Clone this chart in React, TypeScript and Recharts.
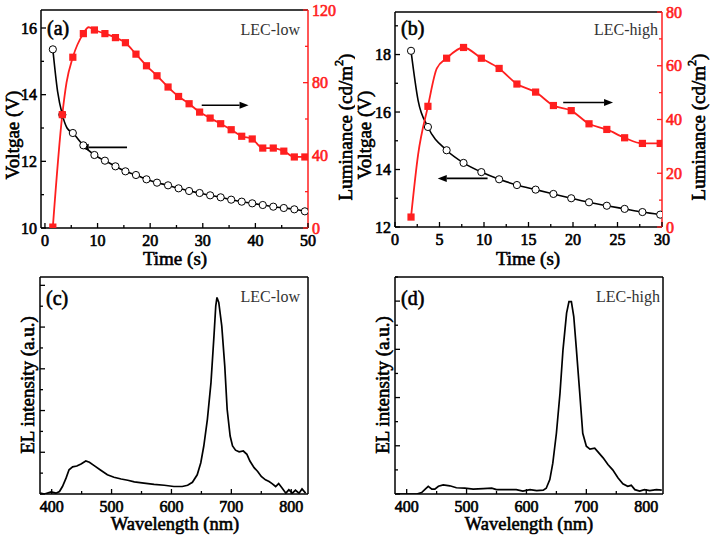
import React from 'react'
import { LineChart, Line, XAxis, YAxis, Label, ReferenceLine } from 'recharts'

const FONT = "'Liberation Serif', 'Times New Roman', serif"
const RED = '#ff1f1f'

// (a) LEC-low, voltage / luminance vs time
const timeLow = [1.5, 3.3, 5.3, 7.3, 9.4, 11.4, 13.4, 15.3, 17.3, 19.3, 21.3, 23.4, 25.4, 27.4, 29.4, 31.4, 33.4, 35.4, 37.4, 39.4, 41.4, 43.4, 45.4, 47.4, 49.4]
const voltLow = [15.36, 13.4, 12.85, 12.48, 12.19, 12.02, 11.85, 11.7, 11.59, 11.46, 11.36, 11.28, 11.19, 11.11, 11.05, 10.98, 10.92, 10.85, 10.79, 10.74, 10.69, 10.64, 10.6, 10.56, 10.5]
const lumLow = [0.5, 62.4, 94, 107, 109, 107, 104.8, 102, 95.7, 89.3, 83.8, 77.6, 72.4, 68.4, 63.8, 60.5, 57.4, 54.1, 50.5, 49, 44, 44, 42.3, 39.1, 39.1]
// curve points between the markers
const voltLowBetweenT = [2.4, 4.2]
const voltLowBetween = [14.1, 13.0]
const lumLowBetweenT = [4.1, 8.3]
const lumLowBetween = [80, 110.5]

// (b) LEC-high
const timeHigh = [1.8, 3.7, 5.8, 7.7, 9.7, 11.7, 13.7, 15.8, 17.8, 19.8, 21.8, 23.8, 25.8, 27.8, 29.8]
const voltHigh = [18.13, 15.48, 14.67, 14.23, 13.91, 13.66, 13.46, 13.3, 13.15, 13.0, 12.86, 12.74, 12.63, 12.52, 12.43]
const lumHigh = [3.7, 44.9, 62.8, 66.8, 62.8, 59.0, 53.2, 50.2, 45.2, 43.3, 38.4, 36.3, 33.2, 31.1, 31.1]
const voltHighBetweenT = [2.6]
const voltHighBetween = [16.4]
const lumHighBetweenT = [2.6, 4.7]
const lumHighBetween = [27, 59]

// (c) EL spectrum, LEC-low
const wlLow = [381, 388, 399, 407, 413, 418, 424, 429, 435, 442, 449, 457, 463, 471, 482, 493, 504, 516, 527, 538, 554, 571, 588, 604, 618, 627, 635, 643, 649, 654, 660, 666, 671, 674, 676, 679, 684, 689, 693, 698, 702, 707, 713, 720, 726, 731, 738, 744, 750, 757, 763, 768, 774, 779, 785, 791, 796, 802, 807, 813, 818, 824]
const elLow = [0.02, 0.0, 0.05, 0.02, 0.06, 0.18, 0.38, 0.58, 0.65, 0.67, 0.72, 0.79, 0.76, 0.68, 0.57, 0.46, 0.4, 0.36, 0.33, 0.29, 0.26, 0.23, 0.21, 0.18, 0.18, 0.21, 0.28, 0.46, 0.75, 1.15, 1.79, 2.67, 3.79, 4.51, 4.71, 4.59, 4.03, 3.07, 2.03, 1.39, 1.15, 1.05, 1.01, 1.03, 0.95, 0.79, 0.63, 0.54, 0.42, 0.34, 0.3, 0.25, 0.18, 0.25, 0.14, 0.02, 0.1, 0.02, 0.09, 0.02, 0.12, 0.02]

// (d) EL spectrum, LEC-high
const wlHigh = [383, 400, 417, 425, 431, 436, 442, 447, 453, 461, 472, 483, 497, 511, 528, 542, 550, 567, 583, 594, 606, 617, 628, 633, 639, 644, 650, 656, 661, 667, 671, 675, 679, 683, 689, 694, 700, 706, 714, 719, 728, 736, 744, 753, 761, 769, 775, 781, 789, 797, 806, 817, 826]
const elHigh = [0, 0, 0, 0.03, 0.1, 0.16, 0.1, 0.1, 0.16, 0.19, 0.17, 0.13, 0.12, 0.1, 0.11, 0.12, 0.09, 0.09, 0.09, 0.06, 0.09, 0.07, 0.08, 0.12, 0.3, 0.64, 1.26, 2.09, 2.99, 3.75, 3.99, 3.99, 3.68, 3.06, 2.09, 1.26, 0.99, 0.93, 0.95, 0.88, 0.75, 0.61, 0.5, 0.33, 0.21, 0.16, 0.18, 0.09, 0.06, 0.09, 0.07, 0.09, 0.08]

// arrows pointing at the axis each curve belongs to
const arrowsLow = [
  { axis: 'v', from: 15.6, to: 6.6, at: 12.42 },
  { axis: 'l', from: 29.8, to: 38.7, at: 67.6 },
]
const arrowsHigh = [
  { axis: 'v', from: 10.4, to: 4.8, at: 13.69 },
  { axis: 'l', from: 18.9, to: 24.5, at: 46.3 },
]

const pts = (xs: number[], ys: number[], k: string) => xs.map((x, i) => ({ t: x, [k]: ys[i] }))
const merged = (xs: number[], ys: number[], bx: number[], by: number[], k: string) =>
  [...pts(xs, ys, k), ...pts(bx, by, k)].sort((a, b) => a.t - b.t)

const frame = { stroke: '#000', strokeWidth: 1.5 }
const redFrame = { stroke: RED, strokeWidth: 1.5 }
// the serif family has no bold face here, so thicken with a thin outline
const boldish = (size: number, color: string, w = 0.55) => ({
  fontFamily: FONT,
  fontSize: size,
  fontWeight: 'normal' as const,
  stroke: color,
  strokeWidth: w,
})

function makeTick(side: 'bottom' | 'left' | 'right', majors: number[], color: string, labels = true) {
  return (props: any) => {
    const { x, y, payload } = props
    const v = payload.value as number
    const major = majors.includes(v)
    const len = major ? 5 : 3
    const st = boldish(16, color, 0.65)
    if (side === 'bottom') {
      return (
        <g>
          <line x1={x} x2={x} y1={y} y2={y - len} stroke={color} strokeWidth={1.3} />
          {labels && major && (
            <text x={x} y={y + 12} textAnchor="middle" dominantBaseline="central" fill={color} style={st}>{v}</text>
          )}
        </g>
      )
    }
    if (side === 'left') {
      return (
        <g>
          <line x1={x} x2={x + len} y1={y} y2={y} stroke={color} strokeWidth={1.3} />
          {labels && major && (
            <text x={x - 4} y={y} textAnchor="end" dominantBaseline="central" fill={color} style={st}>{v}</text>
          )}
        </g>
      )
    }
    return (
      <g>
        <line x1={x} x2={x - len} y1={y} y2={y} stroke={color} strokeWidth={1.3} />
        {labels && major && (
          <text x={x + 4} y={y} textAnchor="start" dominantBaseline="central" fill={color} style={st}>{v}</text>
        )}
      </g>
    )
  }
}

const Arrow = (p: any) => {
  const dir = p.x2 > p.x1 ? 1 : -1
  const hx = p.x2 - dir * 9
  return (
    <g>
      <line x1={p.x1} y1={p.y1} x2={hx} y2={p.y2} stroke="#000" strokeWidth={1.6} />
      <polygon points={`${p.x2},${p.y2} ${hx},${p.y2 - 3.5} ${hx},${p.y2 + 3.5}`} fill="#000" />
    </g>
  )
}

const Circle = (p: any) => (
  <circle key={p.index} cx={p.cx} cy={p.cy} r={3.6} fill="#fff" stroke="#000" strokeWidth={1} />
)
const Square = (p: any) => (
  <rect key={p.index} x={p.cx - 3.6} y={p.cy - 3.6} width={7.2} height={7.2} fill={RED} />
)

const text = (x: number, y: number, body: React.ReactNode, anchor = 'start', size = 19) => () => (
  <text x={x} y={y} dominantBaseline="central" textAnchor={anchor} fill="#000" style={boldish(size, '#000', 0.6)}>{body}</text>
)
const tagText = (x: number, y: number, body: string) => () => (
  <text x={x} y={y} dominantBaseline="central" textAnchor="end" fill="#333" style={{ fontFamily: FONT, fontSize: 16 }}>{body}</text>
)
const vtext = (x: number, y: number, body: React.ReactNode) => () => (
  <text x={x} y={y} textAnchor="middle" dominantBaseline="central" transform={`rotate(-90 ${x} ${y})`} fill="#000" style={boldish(19, '#000', 0.6)}>{body}</text>
)
const lumTitle = (
  <>
    Luminance (cd/m<tspan dy={-6} style={{ fontSize: 12 }}>2</tspan>
    <tspan dy={6}>)</tspan>
  </>
)

const range = (a: number, b: number, s: number) => {
  const out: number[] = []
  for (let v = a; v <= b + 1e-9; v += s) out.push(Math.round(v * 100) / 100)
  return out
}

function TimePanel(props: {
  left: number
  width: number
  margin: any
  xDomain: number[]
  xTicks: number[]
  xMajors: number[]
  vDomain: number[]
  vTicks: number[]
  vMajors: number[]
  lDomain: number[]
  lTicks: number[]
  lMajors: number[]
  voltLine: any[]
  voltMarks: any[]
  lumLine: any[]
  lumMarks: any[]
  arrows: any[]
  tag: string
  tagRight: number
  letter: string
  vTitleX: number
  lTitleX: number
  xTitleX: number
}) {
  const p = props
  return (
    <div style={{ position: 'absolute', left: p.left, top: 0 }}>
      <LineChart width={p.width} height={272} margin={p.margin}>
        <XAxis type="number" dataKey="t" domain={p.xDomain} ticks={p.xTicks} interval={0} allowDataOverflow
          tickSize={0} tickMargin={0} tickLine={false} tick={makeTick('bottom', p.xMajors, '#000')} axisLine={frame} height={40}>
          <Label content={text(p.xTitleX, 258, 'Time (s)', 'middle')} />
        </XAxis>
        <XAxis xAxisId="top" orientation="top" type="number" domain={p.xDomain} allowDataOverflow tick={false} tickLine={false} height={1} axisLine={frame}>
          <Label content={text(p.margin.left + 46, 28, p.letter, 'start', 20)} />
        </XAxis>
        <YAxis yAxisId="v" domain={p.vDomain} ticks={p.vTicks} interval={0} allowDataOverflow width={40}
          tickSize={0} tickMargin={0} tickLine={false} tick={makeTick('left', p.vMajors, '#000')} axisLine={frame}>
          <Label content={vtext(p.vTitleX, 135, 'Voltgae (V)')} />
        </YAxis>
        <YAxis yAxisId="l" orientation="right" domain={p.lDomain} ticks={p.lTicks} interval={0} allowDataOverflow width={40}
          tickSize={0} tickMargin={0} tickLine={false} tick={makeTick('right', p.lMajors, RED)} axisLine={redFrame}>
          <Label content={vtext(p.lTitleX, 127, lumTitle)} />
          <Label content={tagText(p.tagRight, 29, p.tag)} />
        </YAxis>
        {p.arrows.map((a, i) => (
          <ReferenceLine key={i} yAxisId={a.axis} segment={[{ x: a.from, y: a.at }, { x: a.to, y: a.at }]} shape={Arrow} ifOverflow="visible" />
        ))}
        <Line yAxisId="v" data={p.voltLine} dataKey="v" type="monotone" stroke="#000" strokeWidth={1.6} dot={false} isAnimationActive={false} />
        <Line yAxisId="v" data={p.voltMarks} dataKey="v" stroke="none" dot={Circle} isAnimationActive={false} />
        <Line yAxisId="l" data={p.lumLine} dataKey="l" type="monotone" stroke={RED} strokeWidth={1.8} dot={false} isAnimationActive={false} />
        <Line yAxisId="l" data={p.lumMarks} dataKey="l" stroke="none" dot={Square} isAnimationActive={false} />
      </LineChart>
    </div>
  )
}

function SpecPanel(props: {
  left: number
  width: number
  margin: any
  yDomain: number[]
  yTicks: number[]
  data: any[]
  tag: string
  tagRight: number
  letter: string
  yTitleX: number
  xTitleX: number
}) {
  const p = props
  const xDomain = [380.5, 828]
  return (
    <div style={{ position: 'absolute', left: p.left, top: 262 }}>
      <LineChart width={p.width} height={276} margin={p.margin}>
        <XAxis type="number" dataKey="t" domain={xDomain} ticks={range(400, 800, 50)} interval={0} allowDataOverflow
          tickSize={0} tickMargin={0} tickLine={false} tick={makeTick('bottom', [400, 500, 600, 700, 800], '#000')} axisLine={frame} height={30}>
          <Label content={text(p.xTitleX, 262, 'Wavelength (nm)', 'middle', 18.5)} />
        </XAxis>
        <XAxis xAxisId="top" orientation="top" type="number" domain={xDomain} allowDataOverflow tick={false} tickLine={false} height={1} axisLine={frame}>
          <Label content={text(p.margin.left + 46, 36, p.letter, 'start', 20)} />
        </XAxis>
        <YAxis domain={p.yDomain} ticks={p.yTicks} interval={0} allowDataOverflow width={40}
          tickSize={0} tickMargin={0} tickLine={false} tick={makeTick('left', range(0, 6, 1), '#000', false)} axisLine={frame}>
          <Label content={vtext(p.yTitleX, 123, 'EL intensity (a.u.)')} />
        </YAxis>
        <YAxis yAxisId="r" orientation="right" domain={p.yDomain} allowDataOverflow tick={false} tickLine={false} width={1} axisLine={frame}>
          <Label content={tagText(p.tagRight, 34, p.tag)} />
        </YAxis>
        <Line data={p.data} dataKey="y" type="linear" stroke="#000" strokeWidth={1.7} dot={false} isAnimationActive={false} />
      </LineChart>
    </div>
  )
}

export default function App() {
  const xLow = range(0, 50, 5)
  const xHigh = range(0, 30, 2.5)
  return (
    <div style={{ position: 'absolute', left: 0, top: 0, width: 711, height: 538, background: '#fff' }}>
      <TimePanel
        left={0} width={355} margin={{ top: 9, right: 7, bottom: 4, left: 1 }}
        xDomain={[-0.75, 50]} xTicks={xLow} xMajors={[0, 10, 20, 30, 40, 50]}
        vDomain={[10, 16.54]} vTicks={range(10, 16, 1)} vMajors={[10, 12, 14, 16]}
        lDomain={[0, 120]} lTicks={range(0, 120, 20)} lMajors={[0, 40, 80, 120]}
        voltLine={merged(timeLow, voltLow, voltLowBetweenT, voltLowBetween, 'v')}
        voltMarks={pts(timeLow, voltLow, 'v')}
        lumLine={merged(timeLow, lumLow, lumLowBetweenT, lumLowBetween, 'l')}
        lumMarks={pts(timeLow, lumLow, 'l')}
        arrows={arrowsLow} tag="LEC-low" tagRight={300} letter="(a)"
        vTitleX={12} lTitleX={345} xTitleX={175}
      />
      <TimePanel
        left={355} width={356} margin={{ top: 11, right: 9, bottom: 5, left: 0 }}
        xDomain={[0, 30]} xTicks={xHigh} xMajors={[0, 5, 10, 15, 20, 25, 30]}
        vDomain={[12, 19.48]} vTicks={range(12, 19, 1)} vMajors={[12, 14, 16, 18]}
        lDomain={[0, 80]} lTicks={range(0, 80, 10)} lMajors={[0, 20, 40, 60, 80]}
        voltLine={merged(timeHigh, voltHigh, voltHighBetweenT, voltHighBetween, 'v')}
        voltMarks={pts(timeHigh, voltHigh, 'v')}
        lumLine={merged(timeHigh, lumHigh, lumHighBetweenT, lumHighBetween, 'l')}
        lumMarks={pts(timeHigh, lumHigh, 'l')}
        arrows={arrowsHigh} tag="LEC-high" tagRight={303} letter="(b)"
        vTitleX={9} lTitleX={343} xTitleX={173}
      />
      <SpecPanel
        left={0} width={355} margin={{ top: 14, right: 46, bottom: 14, left: 0 }}
        yDomain={[0, 5.2]} yTicks={range(0, 5, 0.5)}
        data={wlLow.map((w, i) => ({ t: w, y: elLow[i] }))}
        tag="LEC-low" tagRight={300} letter="(c)" yTitleX={27} xTitleX={175}
      />
      <SpecPanel
        left={355} width={356} margin={{ top: 14, right: 47, bottom: 14, left: 0 }}
        yDomain={[0, 4.5]} yTicks={range(0, 4.5, 0.5)}
        data={wlHigh.map((w, i) => ({ t: w, y: elHigh[i] }))}
        tag="LEC-high" tagRight={305} letter="(d)" yTitleX={27} xTitleX={174}
      />
    </div>
  )
}
